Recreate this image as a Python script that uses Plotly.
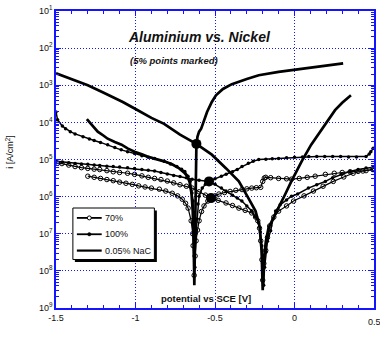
import plotly.graph_objects as go

# Potentiodynamic polarisation curves: potential [V vs SCE] and log10 of current density [A/cm2]

# 0.05% NaCl - nickel
ni_nacl_e = [-1.5, -1.4, -1.3, -1.2, -1.08, -1.0, -0.9, -0.82, -0.72, -0.62, -0.52, -0.43, -0.35,
             -0.29, -0.245, -0.22, -0.207, -0.2, -0.193, -0.18, -0.163, -0.13, -0.1, -0.06, -0.02,
             0.045, 0.105, 0.16, 0.21, 0.255, 0.3, 0.355]
ni_nacl_logi = [-2.68, -2.83, -3.0, -3.2, -3.45, -3.64, -3.88, -4.04, -4.33, -4.57, -4.87, -5.24, -5.59,
                -6.04, -6.39, -6.79, -7.45, -8.52, -7.7, -7.2, -6.84, -6.55, -6.31, -5.95, -5.59,
                -5.05, -4.6, -4.25, -3.95, -3.67, -3.47, -3.27]

# 0.05% NaCl - aluminium
al_nacl_e = [-1.306, -1.27, -1.2375, -1.2, -1.175, -1.13, -1.0875, -1.05, -1.006, -0.96, -0.925, -0.87,
             -0.819, -0.77, -0.725, -0.695, -0.675, -0.66, -0.648, -0.64, -0.635, -0.63, -0.626, -0.623,
             -0.62, -0.617, -0.61, -0.6, -0.587, -0.569, -0.55, -0.52, -0.494, -0.45, -0.394, -0.3,
             -0.225, -0.1, 0.025, 0.15, 0.306]
al_nacl_logi = [-3.91, -4.1, -4.25, -4.36, -4.44, -4.53, -4.6, -4.7, -4.79, -4.86, -4.92, -4.99,
                -5.05, -5.13, -5.24, -5.35, -5.45, -5.6, -5.9, -6.4, -7.0, -8.39, -7.2, -6.3,
                -5.3, -4.6, -4.38, -4.25, -4.17, -3.93, -3.72, -3.45, -3.27, -3.1, -2.97, -2.83,
                -2.73, -2.64, -2.57, -2.5, -2.41]

# 100% - aluminium
al_100_e = [-1.5, -1.49, -1.46, -1.44, -1.41, -1.38, -1.33, -1.29, -1.26, -1.22, -1.175, -1.13, -1.09,
            -1.05, -1.006, -0.96, -0.92, -0.88, -0.82, -0.78, -0.74, -0.71, -0.69, -0.67, -0.656,
            -0.645, -0.638, -0.632, -0.627, -0.62, -0.613, -0.607, -0.6, -0.58, -0.56, -0.5375, -0.5,
            -0.46, -0.43, -0.39, -0.36, -0.33, -0.29, -0.26, -0.225, -0.18, -0.14, -0.1, -0.05, 0.0,
            0.05, 0.09, 0.14, 0.19, 0.24, 0.29, 0.34, 0.39, 0.45, 0.47, 0.48, 0.495]
al_100_logi = [-3.72, -3.93, -4.1, -4.17, -4.25, -4.31, -4.39, -4.45, -4.49, -4.54, -4.6, -4.68, -4.74,
               -4.79, -4.84, -4.9, -4.94, -4.97, -5.05, -5.12, -5.19, -5.26, -5.32, -5.45, -5.59,
               -5.9, -6.12, -6.8, -7.9, -7.0, -6.6, -6.2, -5.99, -5.77, -5.67, -5.59, -5.52,
               -5.45, -5.4, -5.33, -5.27, -5.19, -5.1, -5.05, -5.0, -4.99, -4.98, -4.97, -4.95, -4.94,
               -4.93, -4.92, -4.92, -4.92, -4.92, -4.92, -4.93, -4.93, -4.92, -4.85, -4.79, -4.7]

# 100% - nickel
ni_100_e = [-1.5, -1.46, -1.42, -1.38, -1.34, -1.3, -1.26, -1.225, -1.18, -1.14, -1.1, -1.05, -1.006,
            -0.96, -0.92, -0.88, -0.84, -0.8, -0.76, -0.72, -0.68, -0.644, -0.6, -0.5375, -0.5, -0.46,
            -0.431, -0.39, -0.36, -0.331, -0.3, -0.27, -0.245, -0.225, -0.215, -0.206, -0.2, -0.194,
            -0.188, -0.18, -0.17, -0.15, -0.135, -0.119, -0.09, -0.05, -0.019, 0.02, 0.0875, 0.14,
            0.194, 0.24, 0.294, 0.35, 0.4, 0.45, 0.494]
ni_100_logi = [-5.05, -5.07, -5.09, -5.11, -5.12, -5.13, -5.15, -5.16, -5.18, -5.19, -5.2, -5.22, -5.24,
               -5.27, -5.29, -5.31, -5.35, -5.39, -5.43, -5.46, -5.49, -5.53, -5.56, -5.59, -5.67, -5.77,
               -5.85, -5.96, -6.04, -6.12, -6.25, -6.38, -6.55, -6.71, -6.95, -7.32, -7.8, -8.39,
               -7.9, -7.5, -7.2, -6.92, -6.6, -6.39, -6.22, -6.09, -5.99, -5.93, -5.77, -5.68,
               -5.59, -5.49, -5.4, -5.32, -5.27, -5.23, -5.21]

# 70% - nickel
ni_70_e = [-1.49, -1.4625, -1.42, -1.38, -1.34, -1.3, -1.26, -1.225, -1.18, -1.14, -1.1, -1.05, -1.006,
           -0.96, -0.92, -0.88, -0.84, -0.8, -0.76, -0.72, -0.68, -0.644, -0.6, -0.56, -0.525, -0.48,
           -0.431, -0.39, -0.35, -0.31, -0.269, -0.245, -0.231, -0.22, -0.2125, -0.205, -0.2, -0.193,
           -0.181, -0.17, -0.156, -0.13, -0.1, -0.05, -0.006, 0.06, 0.119, 0.18, 0.244, 0.31, 0.369,
           0.43, 0.494]
ni_70_logi = [-5.1, -5.11, -5.15, -5.19, -5.22, -5.24, -5.26, -5.27, -5.3, -5.33, -5.35, -5.37, -5.4,
              -5.44, -5.48, -5.51, -5.54, -5.58, -5.63, -5.68, -5.72, -5.77, -5.87, -5.96, -6.04, -6.1,
              -6.17, -6.24, -6.31, -6.37, -6.44, -6.55, -6.65, -6.85, -7.19, -7.7, -8.25, -7.8,
              -7.45, -7.1, -6.79, -6.55, -6.39, -6.25, -6.12, -5.98, -5.85, -5.72, -5.59, -5.47, -5.37,
              -5.31, -5.27]

# 70% - aluminium
al_70_e = [-1.3, -1.26, -1.22, -1.18, -1.14, -1.1, -1.06, -1.02, -0.98, -0.94, -0.9, -0.85, -0.81,
           -0.769, -0.735, -0.706, -0.685, -0.669, -0.65, -0.64, -0.6375, -0.631, -0.625, -0.619, -0.61,
           -0.6, -0.585, -0.569, -0.545, -0.525, -0.5, -0.475, -0.44, -0.405, -0.369, -0.33, -0.3,
           -0.269, -0.24, -0.2125, -0.2, -0.19, -0.181, -0.15, -0.1, -0.05, -0.019, 0.03, 0.08, 0.13,
           0.194, 0.25, 0.3, 0.35, 0.4, 0.45, 0.494]
al_70_logi = [-5.45, -5.48, -5.51, -5.54, -5.57, -5.61, -5.64, -5.67, -5.71, -5.74, -5.77, -5.8, -5.85,
              -5.91, -5.98, -6.07, -6.18, -6.31, -6.65, -7.0, -7.32, -8.12, -7.6, -7.19, -6.9,
              -6.65, -6.4, -6.25, -6.12, -6.04, -5.98, -5.93, -5.89, -5.86, -5.83, -5.81, -5.79,
              -5.77, -5.76, -5.75, -5.59, -5.5, -5.48, -5.49, -5.51, -5.52, -5.53, -5.51, -5.48, -5.45,
              -5.4, -5.37, -5.35, -5.33, -5.32, -5.3, -5.27]

# galvanic couple points (curve intersections)
couple_e = [-0.617, -0.5375, -0.525]
couple_logi = [-4.58, -5.59, -6.04]

# axis ticks
x_ticks = [-1.5, -1.0, -0.5, 0.0, 0.5]
x_ticktext = ["-1.5", "-1", "-0.5", "0", "0.5"]
y_decades = [1, 2, 3, 4, 5, 6, 7, 8, 9]

# legend entries: label, marker style
legend_labels = ["70%", "100%", "0.05% NaC"]
legend_markers = ["open", "filled", None]

FONT = "Liberation Sans, Arial, sans-serif"
AXIS_BLUE = "#1414ff"
TXT = "#111"


def cur(logs):
    return [10 ** v for v in logs]


fig = go.Figure()

marker_open = dict(symbol="circle-open", size=4.5, color="black", line=dict(width=1, color="black"))
marker_fill = dict(symbol="circle", size=3.5, color="black")

series = [
    (ni_70_e, ni_70_logi, 1.2, marker_open),
    (al_70_e, al_70_logi, 1.2, marker_open),
    (al_100_e, al_100_logi, 1.5, marker_fill),
    (ni_100_e, ni_100_logi, 1.5, marker_fill),
    (ni_nacl_e, ni_nacl_logi, 2.7, None),
    (al_nacl_e, al_nacl_logi, 2.7, None),
]
for xs, ls, w, mk in series:
    if mk is None:
        fig.add_trace(go.Scatter(x=xs, y=cur(ls), mode="lines", showlegend=False,
                                 line=dict(color="black", width=w)))
    else:
        fig.add_trace(go.Scatter(x=xs, y=cur(ls), mode="lines+markers", showlegend=False,
                                 line=dict(color="black", width=w), marker=mk))

fig.add_trace(go.Scatter(x=couple_e, y=cur(couple_logi), mode="markers", showlegend=False,
                         marker=dict(symbol="circle", size=10, color="black")))

y_minor = [k * 10.0 ** (-n) for n in range(2, 10) for k in range(2, 10)]
x_minor = [round(-1.5 + 0.1 * i, 2) for i in range(21)]

fig.update_layout(
    xaxis=dict(range=[-1.5, 0.5], tickmode="array", tickvals=x_ticks, ticktext=x_ticktext,
               showgrid=True, gridcolor=AXIS_BLUE, griddash="1px,2px", gridwidth=1,
               showline=True, linecolor=AXIS_BLUE, linewidth=1.5, mirror="allticks",
               ticks="inside", ticklen=5, tickcolor=AXIS_BLUE, tickwidth=1, zeroline=False,
               tickfont=dict(size=9, color=TXT, family=FONT),
               minor=dict(tickmode="array", tickvals=x_minor, ticks="inside", ticklen=3,
                          tickcolor=AXIS_BLUE, showgrid=False)),
    yaxis=dict(type="log", range=[-9, -1], tickmode="array",
               tickvals=[10.0 ** (-d) for d in y_decades],
               ticktext=["10<sup>%d</sup>" % d for d in y_decades],
               showgrid=True, gridcolor=AXIS_BLUE, griddash="1px,2px", gridwidth=1,
               showline=True, linecolor=AXIS_BLUE, linewidth=1.5, mirror="allticks",
               ticks="inside", ticklen=5, tickcolor=AXIS_BLUE, tickwidth=1, zeroline=False,
               tickfont=dict(size=9, color=TXT, family=FONT),
               minor=dict(tickmode="array", tickvals=y_minor, ticks="inside", ticklen=3,
                          tickcolor=AXIS_BLUE, showgrid=False)),
    # pixel-space overlay used to lay out the legend box
    xaxis2=dict(overlaying="x", range=[56, 376], visible=False, fixedrange=True),
    yaxis2=dict(overlaying="y", range=[308, 8], visible=False, fixedrange=True),
)

# legend box with drop shadow
fig.add_shape(type="rect", xref="x2", yref="y2", x0=75, x1=157.5, y0=209.5, y1=261.5,
              fillcolor="black", line=dict(width=0), layer="above")
fig.add_shape(type="rect", xref="x2", yref="y2", x0=73, x1=155, y0=207, y1=259,
              fillcolor="white", line=dict(width=1, color="black"), layer="above")
for i, (lab, mk) in enumerate(zip(legend_labels, legend_markers)):
    yy = 217 + i * 16.5
    fig.add_shape(type="line", xref="x2", yref="y2", x0=77, x1=102, y0=yy, y1=yy,
                  line=dict(color="black", width=2.2 if mk is None else 1.8), layer="above")
    if mk == "open":
        fig.add_shape(type="circle", xref="x2", yref="y2", x0=87.5, x1=91.5, y0=yy - 2, y1=yy + 2,
                      fillcolor="white", line=dict(color="black", width=1), layer="above")
    elif mk == "filled":
        fig.add_shape(type="circle", xref="x2", yref="y2", x0=87.8, x1=91.2, y0=yy - 1.7,
                      y1=yy + 1.7, fillcolor="black", line=dict(color="black", width=0.5),
                      layer="above")
    fig.add_annotation(text=lab, xref="x2", yref="y2", x=103.5, y=yy, xanchor="left",
                       yanchor="middle", showarrow=False, font=dict(size=9, color=TXT, family=FONT))

fig.add_annotation(text="<b><i>Aluminium vs. Nickel</i></b>", xref="paper", yref="paper",
                   x=(200 - 56) / 320, y=(308 - 34) / 300, xanchor="center", yanchor="middle",
                   showarrow=False, font=dict(size=14, color=TXT, family=FONT))
fig.add_annotation(text="<b><i>(5% points marked)</i></b>", xref="paper", yref="paper",
                   x=(175 - 56) / 320, y=(308 - 58) / 300, xanchor="center", yanchor="middle",
                   showarrow=False, font=dict(size=9.5, color=TXT, family=FONT))
fig.add_annotation(text="<b>potential vs SCE [V]</b>", xref="paper", yref="paper",
                   x=(207 - 56) / 320, y=(308 - 298) / 300, xanchor="center", yanchor="middle",
                   showarrow=False, font=dict(size=9.5, color=TXT, family=FONT))
fig.add_annotation(text="i [A/cm<sup>2</sup>]", xref="paper", yref="paper",
                   x=(9 - 56) / 320, y=(308 - 150) / 300, xanchor="center", yanchor="middle",
                   showarrow=False, textangle=-90, font=dict(size=9, color=TXT, family=FONT))
# last x tick label runs off the right edge of the page
fig.add_annotation(text="0.5", xref="x", yref="paper", x=0.5, y=(308 - 322) / 300,
                   xanchor="center", yanchor="middle", showarrow=False,
                   font=dict(size=9, color=TXT, family=FONT))

fig.update_layout(width=380, height=338, margin=dict(l=56, r=4, t=8, b=30),
                  paper_bgcolor="white", plot_bgcolor="white",
                  font=dict(family=FONT, size=9, color=TXT), showlegend=False)

fig.write_html("out.html")
